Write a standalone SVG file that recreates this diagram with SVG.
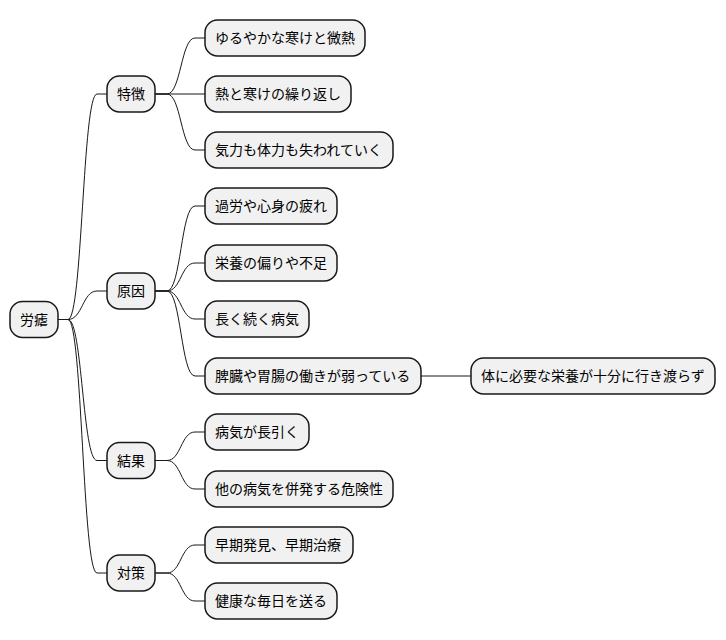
<svg xmlns="http://www.w3.org/2000/svg" width="726" height="640" viewBox="0 0 726 640">
<style>
.b{fill:#F1F1F1;stroke:#181818;stroke-width:1.5}
.t{font-family:"Noto Sans CJK JP","Noto Sans",sans-serif;font-size:14px;fill:#000}
.c path{fill:none;stroke:#181818;stroke-width:1}
</style>
<rect width="726" height="640" fill="#FFFFFF"/>
<g class="c" id="connectors">
<path d="M58,319.5 H68 C82.5,319.5 82.5,94 97,94 H107"/>
<path d="M58,319.5 H68 C82.5,319.5 82.5,291 97,291 H107"/>
<path d="M58,319.5 H68 C82.5,319.5 82.5,460.5 97,460.5 H107"/>
<path d="M58,319.5 H68 C82.5,319.5 82.5,573 97,573 H107"/>
<path d="M155,94 H167 C181,94 181,38 195,38 H205"/>
<path d="M155,94 H205"/>
<path d="M155,94 H167 C181,94 181,150 195,150 H205"/>
<path d="M155,291 H167 C181,291 181,206 195,206 H205"/>
<path d="M155,291 H167 C181,291 181,263 195,263 H205"/>
<path d="M155,291 H167 C181,291 181,319 195,319 H205"/>
<path d="M155,291 H167 C181,291 181,376 195,376 H205"/>
<path d="M155,460.5 H167 C181,460.5 181,432 195,432 H205"/>
<path d="M155,460.5 H167 C181,460.5 181,489 195,489 H205"/>
<path d="M155,573 H167 C181,573 181,545 195,545 H205"/>
<path d="M155,573 H167 C181,573 181,601 195,601 H205"/>
<path d="M421,376 H471"/>
</g>
<g id="root"><rect class="b" x="10" y="301.5" width="48" height="36" rx="12.5"/><text class="t" x="20" y="324.5">労瘧</text></g>
<g id="n1"><rect class="b" x="107" y="76" width="48" height="36" rx="12.5"/><text class="t" x="117" y="99">特徴</text></g>
<g id="n2"><rect class="b" x="107" y="273" width="48" height="36" rx="12.5"/><text class="t" x="117" y="296">原因</text></g>
<g id="n3"><rect class="b" x="107" y="442.5" width="48" height="36" rx="12.5"/><text class="t" x="117" y="465.5">結果</text></g>
<g id="n4"><rect class="b" x="107" y="555" width="48" height="36" rx="12.5"/><text class="t" x="117" y="578">対策</text></g>
<g id="n11"><rect class="b" x="205" y="20" width="160" height="36" rx="12.5"/><text class="t" x="215" y="43">ゆるやかな寒けと微熱</text></g>
<g id="n12"><rect class="b" x="205" y="76" width="146" height="36" rx="12.5"/><text class="t" x="215" y="99">熱と寒けの繰り返し</text></g>
<g id="n13"><rect class="b" x="205" y="132" width="188" height="36" rx="12.5"/><text class="t" x="215" y="155">気力も体力も失われていく</text></g>
<g id="n21"><rect class="b" x="205" y="188" width="132" height="36" rx="12.5"/><text class="t" x="215" y="211">過労や心身の疲れ</text></g>
<g id="n22"><rect class="b" x="205" y="245" width="132" height="36" rx="12.5"/><text class="t" x="215" y="268">栄養の偏りや不足</text></g>
<g id="n23"><rect class="b" x="205" y="301" width="104" height="36" rx="12.5"/><text class="t" x="215" y="324">長く続く病気</text></g>
<g id="n24"><rect class="b" x="205" y="358" width="216" height="36" rx="12.5"/><text class="t" x="215" y="381">脾臓や胃腸の働きが弱っている</text></g>
<g id="n241"><rect class="b" x="471" y="358" width="244" height="36" rx="12.5"/><text class="t" x="481" y="381">体に必要な栄養が十分に行き渡らず</text></g>
<g id="n31"><rect class="b" x="205" y="414" width="104" height="36" rx="12.5"/><text class="t" x="215" y="437">病気が長引く</text></g>
<g id="n32"><rect class="b" x="205" y="471" width="188" height="36" rx="12.5"/><text class="t" x="215" y="494">他の病気を併発する危険性</text></g>
<g id="n41"><rect class="b" x="205" y="527" width="148" height="36" rx="12.5"/><text class="t" x="215" y="550">早期発見、早期治療</text></g>
<g id="n42"><rect class="b" x="205" y="583" width="132" height="36" rx="12.5"/><text class="t" x="215" y="606">健康な毎日を送る</text></g>
</svg>
